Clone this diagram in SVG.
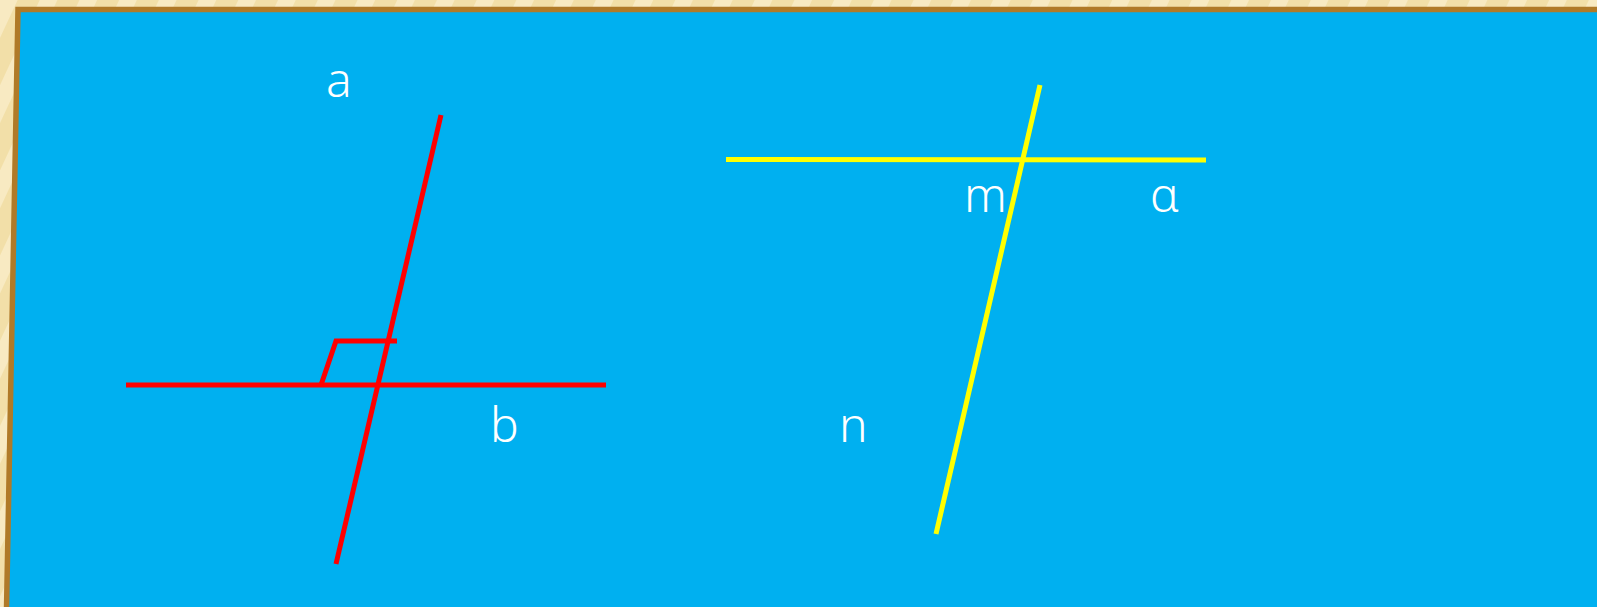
<svg xmlns="http://www.w3.org/2000/svg" width="1597" height="607" viewBox="0 0 1597 607">
<defs>
<pattern id="stripes" width="36" height="36" patternUnits="userSpaceOnUse" patternTransform="rotate(25)">
<rect width="36" height="36" fill="#F2DFA8"/>
<rect width="16" height="36" fill="#F8EAC2"/>
</pattern>
</defs>
<style>
.red{stroke:#FF0000;stroke-width:5;fill:none}
.yel{stroke:#FFFF00;stroke-width:5;fill:none}
.lbl{fill:#FFFFFF;font-family:"Noto Sans","Open Sans","DejaVu Sans",sans-serif;font-size:48px;font-weight:350}
</style>
<rect width="1597" height="607" fill="url(#stripes)"/>
<polygon id="board" points="18,9.5 1615,9.5 1615,620 6.3,620" fill="#00B0F0" stroke="#B07A28" stroke-width="5.5"/>
<g id="connectors">
<line class="red" x1="441" y1="115" x2="336" y2="564"/>
<line class="red" x1="126" y1="385" x2="606" y2="385"/>
<polyline class="red" points="321,385 336,341 397,341"/>
<line class="yel" x1="726" y1="159.5" x2="1206" y2="160"/>
<line class="yel" x1="1040" y1="85" x2="936" y2="534"/>
</g>
<g id="label-a"><text class="lbl" x="326" y="97">a</text></g>
<g id="label-b"><text class="lbl" x="490" y="442">b</text></g>
<g id="label-m"><text class="lbl" x="964" y="212">m</text></g>
<g id="label-alpha"><text class="lbl" x="1150" y="212">α</text></g>
<g id="label-n"><text class="lbl" x="839" y="442">n</text></g>
</svg>
